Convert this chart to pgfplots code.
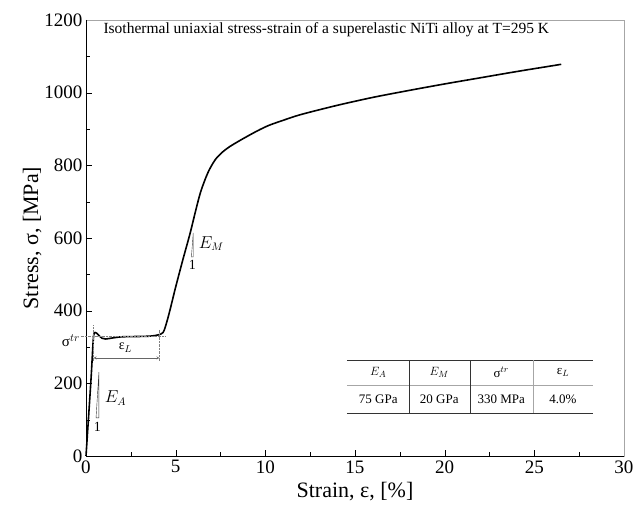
\documentclass[border=0pt]{standalone}
\usepackage{pgfplots}
\pgfplotsset{compat=1.18}
\usepackage{fontspec}
\setmainfont{Liberation Serif}

\pgfplotstableread{
x y
0 0
0.1 75
0.2 150
0.3 228
0.38 300
0.43 333
0.5 340
0.6 338
0.75 330
0.9 324
1.1 322
1.5 325
2.0 328
3.0 329
3.6 330
4.0 333
4.3 340
4.5 368
4.7 405
5.0 465
5.4 540
5.8 612
6.1 672
6.4 728
6.8 780
7.2 815
7.6 836
8.0 851
8.5 866
9.0 880
9.6 896
10.2 910
11 924
12 940
14 965
16 987
18 1006
20 1024
22 1041
24 1058
26 1074
26.5 1078
}\stress

\begin{document}
\begin{tikzpicture}
\begin{axis}[
    scale only axis,
    width=538pt, height=436pt,
    xmin=0, xmax=30, ymin=0, ymax=1200,
    xtick={0,5,...,30}, ytick={0,200,...,1200},
    minor x tick num=1, minor y tick num=1,
    tick align=inside, xtick pos=left, ytick pos=left,
    major tick length=6pt, minor tick length=4pt,
    axis line style={gray!70},
    tick style={black},
    /pgf/number format/assume math mode=true,
    /pgf/number format/1000 sep={},
    ticklabel style={font=\fontsize{19}{23}\selectfont},
    xticklabel style={yshift=-1pt},
    xlabel={Strain, ε, [\%]},
    ylabel={Stress, σ, [MPa]},
    label style={font=\fontsize{22}{26}\selectfont},
    xlabel style={yshift=-2pt},
    ylabel style={yshift=-4pt},
    clip=false,
]
\draw[black] (rel axis cs:0,1) -- (rel axis cs:0,0) -- (rel axis cs:1,0);
\coordinate (o) at (rel axis cs:0,0);
\addplot[black, line width=1.6pt, smooth, tension=0.5] table {\stress};

% title
\node[font=\fontsize{15.5}{18}\selectfont] at (axis cs:13.4,1172)
  {Isothermal uniaxial stress-strain of a superelastic NiTi alloy at T=295 K};

% transformation plateau guides
\draw[gray, densely dotted] (axis cs:-0.3,330) -- (axis cs:4.4,330);
\draw[gray, densely dotted] (axis cs:0.42,262) -- (axis cs:0.42,362);
\draw[gray, densely dotted] (axis cs:4.1,262) -- (axis cs:4.1,350);
\draw[gray!80!black, <->, >=stealth] (axis cs:0.42,270) -- (axis cs:4.1,270);
\node[font=\fontsize{14}{17}\selectfont] at (axis cs:2.2,298) {ε$_L$};
\node[anchor=east, font=\fontsize{15}{18}\selectfont] at (axis cs:-0.15,318) {σ$^{tr}$};

% slope triangles
\draw[black!80, thin] (axis cs:0.56,105) -- (axis cs:0.72,105) -- (axis cs:0.72,231) -- cycle;
\node[font=\fontsize{14}{17}\selectfont] at (axis cs:0.64,80) {1};
\node[anchor=west, font=\fontsize{16}{19}\selectfont] at (axis cs:0.85,160) {$E_A$};
\draw[black!80, thin] (axis cs:5.88,548) -- (axis cs:5.98,548) -- (axis cs:5.98,614) -- cycle;
\node[font=\fontsize{14}{17}\selectfont] at (axis cs:5.93,527) {1};
\node[anchor=west, font=\fontsize{16}{19}\selectfont] at (axis cs:6.1,585) {$E_M$};

% parameter table
\draw[black!80, line width=0.9pt] (axis cs:14.55,264) -- (axis cs:28.25,264);
\draw[gray!70, line width=0.9pt] (axis cs:14.55,193) -- (axis cs:28.25,193);
\draw[black!80, line width=0.9pt] (axis cs:14.55,118) -- (axis cs:28.25,118);
\draw[black!80] (axis cs:18.0,264) -- (axis cs:18.0,118);
\draw[black!80] (axis cs:21.4,264) -- (axis cs:21.4,118);
\draw[gray!70] (axis cs:24.93,264) -- (axis cs:24.93,118);
\begin{scope}[every node/.style={font=\fontsize{13}{15}\selectfont}]
\node at (axis cs:16.3,230) {$E_A$};
\node at (axis cs:19.7,230) {$E_M$};
\node at (axis cs:23.15,230) {σ$^{tr}$};
\node at (axis cs:26.6,230) {ε$_L$};
\node at (axis cs:16.3,155) {75 GPa};
\node at (axis cs:19.7,155) {20 GPa};
\node at (axis cs:23.15,155) {330 MPa};
\node at (axis cs:26.6,155) {4.0\%};
\end{scope}
\end{axis}
\pgfresetboundingbox
\path (o) ++(-86pt,-54pt) rectangle ++(643pt,510pt);
\end{tikzpicture}
\end{document}
